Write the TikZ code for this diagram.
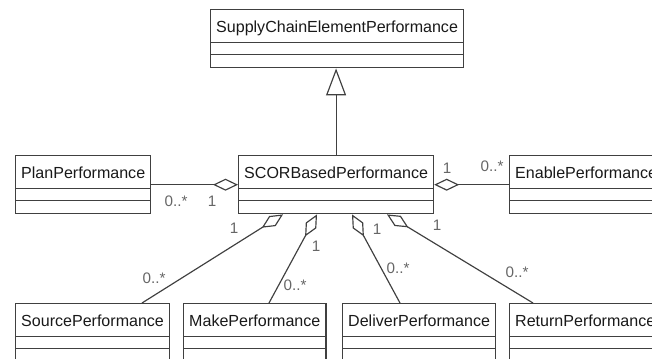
\documentclass[tikz,border=0pt]{standalone}
\usepackage{fontspec}
\setmainfont{Liberation Sans}
\usetikzlibrary{arrows.meta}
\usetikzlibrary{calc}

\begin{document}
\begin{tikzpicture}[x=0.3mm,y=-0.3mm,
        umlclass/.style={draw=black!75, line width=1.2pt, rectangle, anchor=north west,
            inner xsep=1.65mm, inner ysep=0pt, text height=6.7mm, text depth=10.7mm,
            font=\fontsize{13.7}{16}\selectfont, text=black!90,
            path picture={
                \draw[black!75, line width=1.2pt] ([yshift=-9.9mm]path picture bounding box.north west) -- ([yshift=-9.9mm]path picture bounding box.north east);
                \draw[black!75, line width=1.2pt] ([yshift=-13.5mm]path picture bounding box.north west) -- ([yshift=-13.5mm]path picture bounding box.north east);
            }},
        mult/.style={font=\fontsize{13}{15}\selectfont, text=black!60, inner sep=0pt},
        assoc/.style={draw=black!75, line width=1pt, {Diamond[open,length=7.5mm,width=3.6mm]}-},
        generalize/.style={draw=black!75, line width=1pt, -{Triangle[open,length=8.1mm,width=6mm]}}]
        \useasboundingbox (0,0) rectangle (652,358);
        \clip (0,0) rectangle (652,358);
        % classes
        \node[umlclass] (supply) at (210,9) {SupplyChainElementPerformance};
        \node[umlclass] (plan) at (15,155) {PlanPerformance};
        \node[umlclass] (scor) at (238,155) {SCORBasedPerformance};
        \node[umlclass] (enable) at (509,155) {EnablePerformance};
        \node[umlclass] (source) at (15,303) {SourcePerformance};
        \node[umlclass] (make) at (183,303) {MakePerformance};
        \node[umlclass] (deliver) at (342,303) {DeliverPerformance};
        \node[umlclass] (return) at (509,303) {ReturnPerformance};
        % inheritance
        \draw[generalize] (scor.north) -- (scor.north |- supply.south);
        % side aggregations
        \draw[assoc] (scor.west) -- (plan.east);
        \draw[assoc] (scor.east) -- (enable.west);
        \node[mult] (plan-many) at (176,201) {0..*};
        \node[mult] (plan-one) at (212,201) {1};
        \node[mult] (enable-one) at (447,168) {1};
        \node[mult] (enable-many) at (492,166) {0..*};
        % lower aggregations
        \coordinate (scor-source) at ($(scor.south west)+(45,0)$);
        \coordinate (scor-make) at ($(scor.south west)+(79,0)$);
        \coordinate (scor-deliver) at ($(scor.south west)+(114,0)$);
        \coordinate (scor-return) at ($(scor.south west)+(149,0)$);
        \coordinate (source-top) at ($(source.north west)+(127,0)$);
        \coordinate (make-top) at ($(make.north west)+(86,0)$);
        \coordinate (deliver-top) at ($(deliver.north west)+(58,0)$);
        \coordinate (return-top) at ($(return.north west)+(24,0)$);
        \draw[assoc] (scor-source) -- (source-top);
        \draw[assoc] (scor-make) -- (make-top);
        \draw[assoc] (scor-deliver) -- (deliver-top);
        \draw[assoc] (scor-return) -- (return-top);
        \node[mult] (source-one) at (234,228) {1};
        \node[mult] (source-many) at (154,278) {0..*};
        \node[mult] (make-one) at (316,246) {1};
        \node[mult] (make-many) at (295,285) {0..*};
        \node[mult] (deliver-one) at (377,229) {1};
        \node[mult] (deliver-many) at (398,268) {0..*};
        \node[mult] (return-one) at (437,225) {1};
        \node[mult] (return-many) at (517,272) {0..*};
    \end{tikzpicture}
\end{document}
